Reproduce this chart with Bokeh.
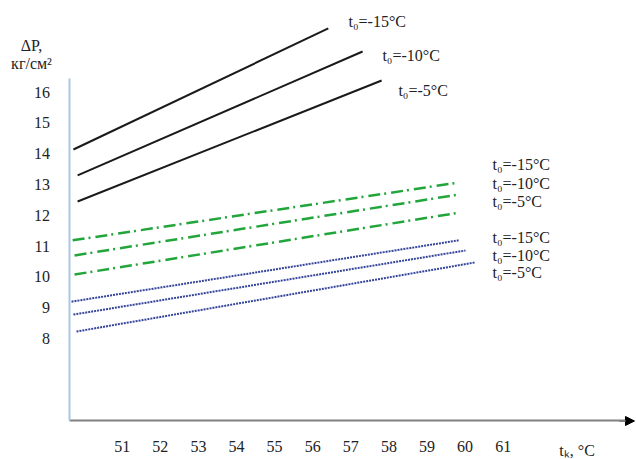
from bokeh.plotting import figure
from bokeh.models import FixedTicker, Label, Arrow, NormalHead
from bokeh.embed import file_html
from bokeh.resources import INLINE

# ---- data ----
x_ticks = [51, 52, 53, 54, 55, 56, 57, 58, 59, 60, 61]
y_ticks = [8, 9, 10, 11, 12, 13, 14, 15, 16]
t0_labels = ["t\u2080=-15\u00b0C", "t\u2080=-10\u00b0C", "t\u2080=-5\u00b0C"]

# solid black group
black_tk = [[49.72, 56.41], [49.83, 57.31], [49.83, 57.81]]
black_dp = [[14.14, 18.07], [13.30, 17.32], [12.45, 16.38]]
# green dash-dot group
green_tk = [[49.70, 59.85], [49.75, 59.85], [49.75, 59.85]]
green_dp = [[11.19, 13.07], [10.70, 12.68], [10.08, 12.09]]
# blue dotted group
blue_tk = [[49.67, 59.83], [49.72, 60.01], [49.80, 60.25]]
blue_dp = [[9.20, 11.19], [8.78, 10.86], [8.23, 10.47]]

FONT = "Liberation Serif"
FS = "16px"
X0, X1 = 47.806, 64.499
Y0, Y1 = 4.0747, 18.977
AX_X = 49.604      # where the vertical axis sits
AX_Y = 5.325       # where the horizontal axis sits
AX_TOP = 16.445
ARROW_END = 64.446

p = figure(width=636, height=459, x_range=(X0, X1), y_range=(Y0, Y1),
           output_backend="svg", toolbar_location=None, title=None)
p.min_border_left = 0
p.min_border_right = 0
p.min_border_top = 0
p.min_border_bottom = 0
p.outline_line_color = None
p.xgrid.visible = False
p.ygrid.visible = False
p.background_fill_color = "white"
p.border_fill_color = "white"

# x axis
xa = p.xaxis[0]
xa.fixed_location = AX_Y
xa.bounds = (AX_X, ARROW_END - 0.2)
xa.ticker = FixedTicker(ticks=x_ticks)
xa.major_tick_in = 0
xa.major_tick_out = 0
xa.minor_tick_out = 0
xa.minor_tick_in = 0
xa.axis_line_color = "#808080"
xa.axis_line_width = 2
xa.major_label_standoff = 20
xa.major_label_text_font = FONT
xa.major_label_text_font_size = FS
xa.major_label_text_color = "#222222"

# y axis
ya = p.yaxis[0]
ya.fixed_location = AX_X
ya.bounds = (AX_Y, AX_TOP)
ya.ticker = FixedTicker(ticks=y_ticks)
ya.major_tick_in = 0
ya.major_tick_out = 0
ya.minor_tick_out = 0
ya.minor_tick_in = 0
ya.axis_line_color = "#aac6e6"
ya.axis_line_width = 2
ya.major_label_standoff = 19
ya.major_label_text_font = FONT
ya.major_label_text_font_size = FS
ya.major_label_text_color = "#222222"

# arrow head of x axis
p.add_layout(Arrow(end=NormalHead(size=9, fill_color="black", line_color="black"),
                   x_start=ARROW_END - 0.4, y_start=AX_Y, x_end=ARROW_END, y_end=AX_Y,
                   line_color="#808080", line_width=2))

p.multi_line(xs=black_tk, ys=black_dp, line_color="#1a1a1a", line_width=2)
p.multi_line(xs=green_tk, ys=green_dp, line_color="#22a63c", line_width=2.5,
             line_dash="12 4 2 5")
p.multi_line(xs=blue_tk, ys=blue_dp, line_color="#34449a", line_width=2,
             line_dash="2 1")

def lab(x, y, text, align="left"):
    p.add_layout(Label(x=x, y=y, text=text, text_font=FONT, text_font_size=FS,
                       text_color="#222222", text_align=align, text_baseline="middle"))

# labels of the black lines
for x, y, t in zip([56.94, 57.83, 58.25], [18.30, 17.19, 16.06], t0_labels):
    lab(x, y, t)
# labels of green and blue groups
for y, t in zip([13.65, 13.04, 12.45], t0_labels):
    lab(60.72, y, t)
for y, t in zip([11.28, 10.70, 10.15], t0_labels):
    lab(60.72, y, t)

# axis titles
lab(48.62, 17.52, "\u0394P,", "center")
lab(48.62, 16.93, "\u043a\u0433/\u0441\u043c\u00b2", "center")
lab(62.94, 4.367, "t\u2096, \u00b0C", "center")

open("out.html", "w").write(file_html(p, INLINE))
